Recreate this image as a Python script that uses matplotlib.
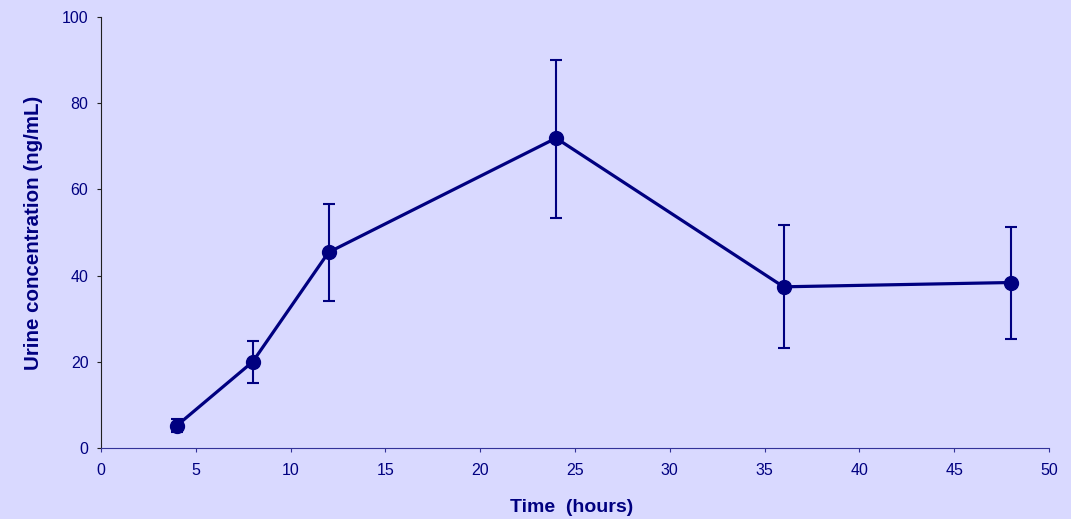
import numpy as np
from matplotlib import pyplot as plt

# ---------- Data
time_h = [4, 8, 12, 24, 36, 48]
conc = [5.2, 20.0, 45.4, 71.9, 37.4, 38.4]
err_lo = [1.5, 5.0, 11.4, 18.5, 14.3, 13.1]
err_hi = [1.5, 4.9, 11.1, 18.1, 14.3, 12.9]

navy = '#000080'
bg = '#D9D9FF'

plt.rcParams['font.family'] = ['Liberation Sans', 'DejaVu Sans']

fig = plt.figure(figsize=(10.71, 5.19), dpi=100, facecolor=bg)
ax = fig.add_axes([0.0943, 0.1368, 0.8852, 0.8304])
ax.set_facecolor(bg)

# ---------- Error bars and line
ax.errorbar(time_h, conc, yerr=[err_lo, err_hi], fmt='none',
            ecolor=navy, elinewidth=1.5, capsize=4.3, capthick=1.5, zorder=2)
ax.plot(time_h, conc, color=navy, lw=2.3, marker='o', ms=10, zorder=3)

ax.set_xlim(0, 50)
ax.set_ylim(0, 100)
ax.set_xticks(np.arange(0, 51, 5))
ax.set_yticks(np.arange(0, 101, 20))

for s in ['top', 'right']:
    ax.spines[s].set_visible(False)
ax.spines['left'].set_color('#202020')
ax.spines['bottom'].set_color('#333399')
ax.tick_params(axis='x', colors=navy, labelsize=11.5, length=3, pad=8, color='#333399')
ax.tick_params(axis='y', colors=navy, labelsize=11.5, length=3, pad=6, color='#202020')

ax.set_xlabel('Time  (hours)', color=navy, fontsize=14, fontweight='bold', va='center')
ax.set_ylabel('Urine concentration (ng/mL)', color=navy, fontsize=14.8,
              fontweight='bold', va='center')
ax.xaxis.set_label_coords(0.496, -0.139)
ax.yaxis.set_label_coords(-0.071, 0.5)

fig.savefig('out.png', dpi=100, facecolor=bg)
